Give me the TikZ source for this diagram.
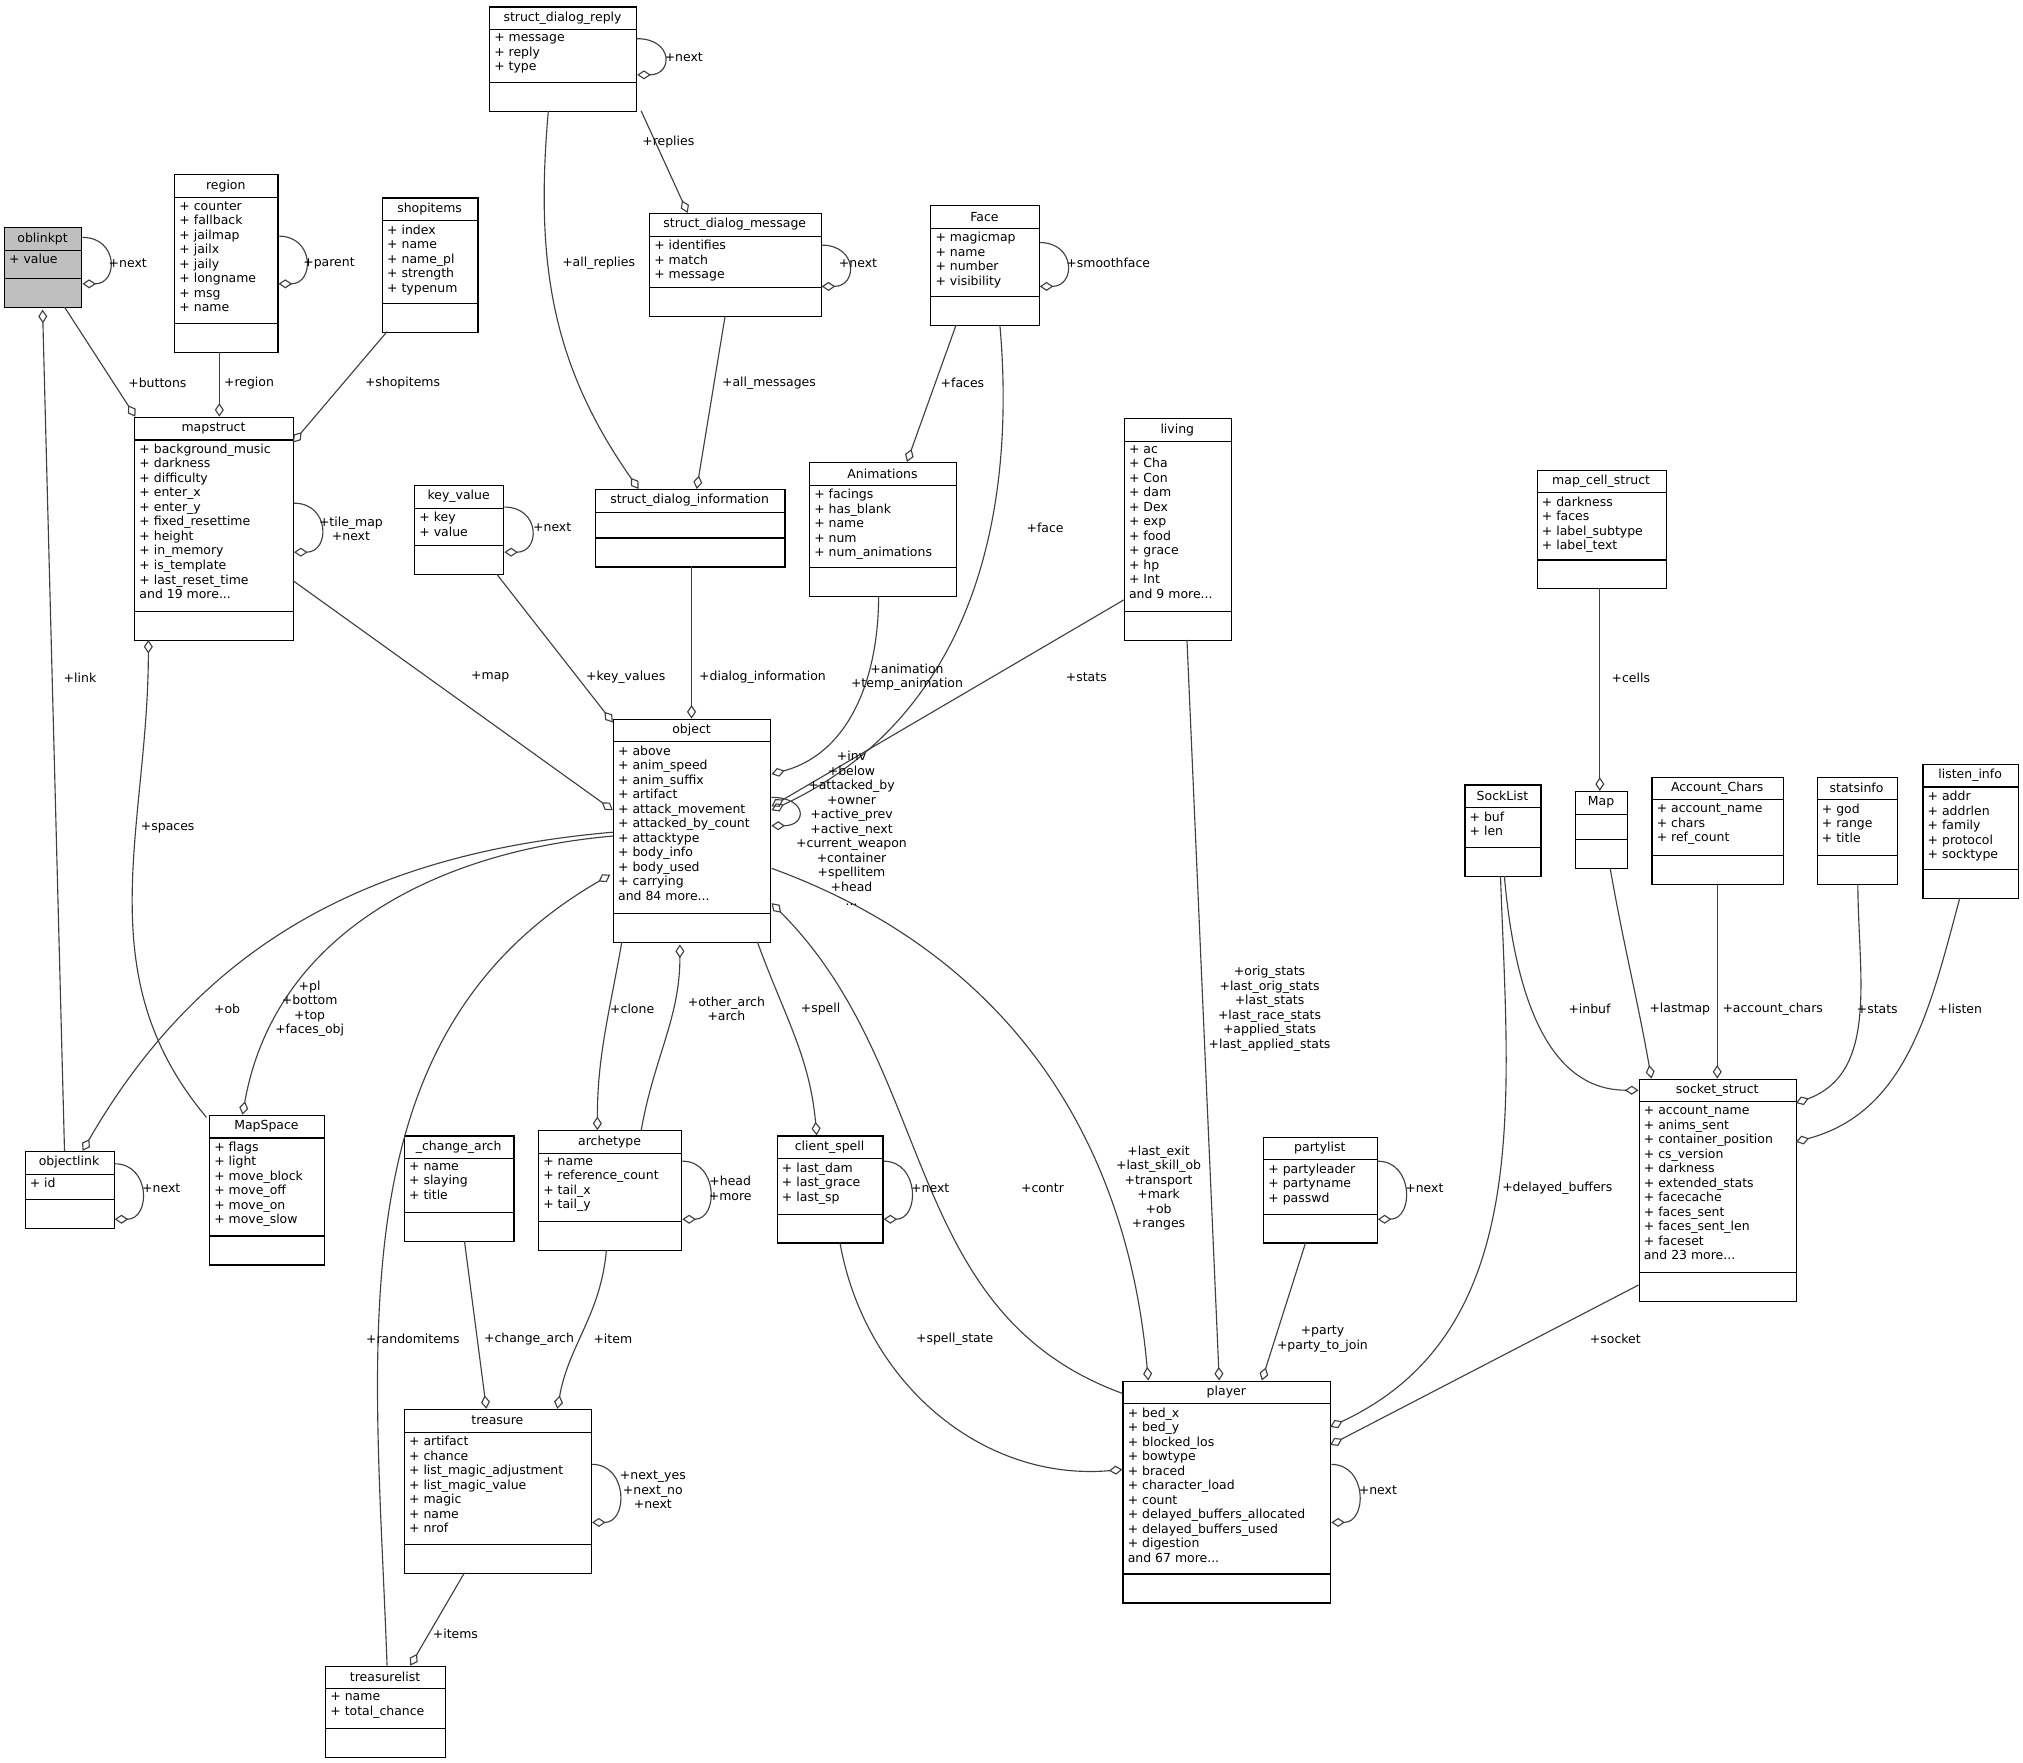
\documentclass[tikz,border=0pt]{standalone}
\usepackage{fontspec}
\newfontfamily\dv{DejaVu Sans}
\usetikzlibrary{arrows.meta, calc}
\tikzset{
x=0.02cm, y=-0.02cm, % pixel units, y down
every node/.style={font=\dv\fontsize{5.5}{6.4}\selectfont, inner sep=1pt},
classbox/.style={draw=black, line width=0.5pt, inner sep=0pt},
classline/.style={draw=black, line width=0.5pt},
attrs/.style={align=left},
agg/.style={draw=black!75, line width=0.5pt, -{Diamond[open,length=6pt,width=4pt]}},
lbl/.style={align=center},
}
% fill, name, x1, y1, x2, y2, title, attributes
\newcommand\umlclass[8][white]{%
  \node[classbox, fill=#1, anchor=north west, minimum width={(#5-#3)*0.02cm},
        minimum height={(#6-#4)*0.02cm}] (#2) at (#3,#4) {};
  \draw[classline] (#3,#4+18) -- (#5,#4+18) (#3,#6-22) -- (#5,#6-22);
  \node (#2-t) at ({(#3+#5)/2},#4+9) {#7};
  \node[attrs, anchor=north west] (#2-a) at (#3+2,#4+19) {#8};
}
% name, top offset, bottom offset
\newcommand\selfloop[3]{%
  \draw[agg] ([shift={(0,#2)}]#1.north east) .. controls +(28,0) and +(28,0) .. ([shift={(0,#3)}]#1.north east);
}
\begin{document}
\begin{tikzpicture}
\useasboundingbox (0,0) rectangle (1568,1366);

\umlclass[black!25]{oblinkpt}{3}{176}{63}{238}{oblinkpt}{+ value}
\umlclass{region}{135}{135}{215}{273}{region}{+ counter\\+ fallback\\+ jailmap\\+ jailx\\+ jaily\\+ longname\\+ msg\\+ name}
\umlclass{shopitems}{296}{153}{370}{257}{shopitems}{+ index\\+ name\\+ name\_pl\\+ strength\\+ typenum}
\umlclass{sdreply}{379}{5}{493}{86}{struct\_dialog\_reply}{+ message\\+ reply\\+ type}
\umlclass{sdmessage}{503}{165}{636}{245}{struct\_dialog\_message}{+ identifies\\+ match\\+ message}
\umlclass{face}{721}{159}{805}{252}{Face}{+ magicmap\\+ name\\+ number\\+ visibility}
\umlclass{mapstruct}{104}{323}{227}{496}{mapstruct}{+ background\_music\\+ darkness\\+ difficulty\\+ enter\_x\\+ enter\_y\\+ fixed\_resettime\\+ height\\+ in\_memory\\+ is\_template\\+ last\_reset\_time\\and 19 more...}
\umlclass{keyvalue}{321}{376}{390}{445}{key\_value}{+ key\\+ value}
\umlclass{sdinfo}{461}{379}{608}{439}{struct\_dialog\_information}{}
\umlclass{animations}{627}{358}{741}{462}{Animations}{+ facings\\+ has\_blank\\+ name\\+ num\\+ num\_animations}
\umlclass{living}{871}{324}{954}{496}{living}{+ ac\\+ Cha\\+ Con\\+ dam\\+ Dex\\+ exp\\+ food\\+ grace\\+ hp\\+ Int\\and 9 more...}
\umlclass{mapcell}{1191}{364}{1291}{456}{map\_cell\_struct}{+ darkness\\+ faces\\+ label\_subtype\\+ label\_text}
\umlclass{object}{475}{557}{597}{730}{object}{+ above\\+ anim\_speed\\+ anim\_suffix\\+ artifact\\+ attack\_movement\\+ attacked\_by\_count\\+ attacktype\\+ body\_info\\+ body\_used\\+ carrying\\and 84 more...}
\umlclass{socklist}{1135}{608}{1194}{679}{SockList}{+ buf\\+ len}
\umlclass{map}{1221}{613}{1261}{673}{Map}{}
\umlclass{accchars}{1280}{602}{1382}{685}{Account\_Chars}{+ account\_name\\+ chars\\+ ref\_count}
\umlclass{statsinfo}{1408}{602}{1470}{685}{statsinfo}{+ god\\+ range\\+ title}
\umlclass{listeninfo}{1490}{592}{1564}{696}{listen\_info}{+ addr\\+ addrlen\\+ family\\+ protocol\\+ socktype}
\umlclass{objectlink}{19}{892}{88}{952}{objectlink}{+ id}
\umlclass{mapspace}{162}{864}{251}{980}{MapSpace}{+ flags\\+ light\\+ move\_block\\+ move\_off\\+ move\_on\\+ move\_slow}
\umlclass{changearch}{313}{880}{398}{962}{\_change\_arch}{+ name\\+ slaying\\+ title}
\umlclass{archetype}{417}{876}{528}{969}{archetype}{+ name\\+ reference\_count\\+ tail\_x\\+ tail\_y}
\umlclass{clientspell}{602}{880}{684}{963}{client\_spell}{+ last\_dam\\+ last\_grace\\+ last\_sp}
\umlclass{partylist}{979}{881}{1067}{963}{partylist}{+ partyleader\\+ partyname\\+ passwd}
\umlclass{socket}{1270}{836}{1392}{1008}{socket\_struct}{+ account\_name\\+ anims\_sent\\+ container\_position\\+ cs\_version\\+ darkness\\+ extended\_stats\\+ facecache\\+ faces\_sent\\+ faces\_sent\_len\\+ faceset\\and 23 more...}
\umlclass{treasure}{313}{1092}{458}{1219}{treasure}{+ artifact\\+ chance\\+ list\_magic\_adjustment\\+ list\_magic\_value\\+ magic\\+ name\\+ nrof}
\umlclass{player}{870}{1070}{1031}{1242}{player}{+ bed\_x\\+ bed\_y\\+ blocked\_los\\+ bowtype\\+ braced\\+ character\_load\\+ count\\+ delayed\_buffers\_allocated\\+ delayed\_buffers\_used\\+ digestion\\and 67 more...}
\umlclass{treasurelist}{252}{1291}{345}{1362}{treasurelist}{+ name\\+ total\_chance}

% self references
\selfloop{oblinkpt}{8}{44}
\selfloop{region}{48}{85}
\selfloop{sdreply}{25}{53}
\selfloop{sdmessage}{25}{57}
\selfloop{face}{29}{63}
\selfloop{mapstruct}{67}{105}
\selfloop{keyvalue}{17}{52}
\selfloop{object}{61}{83}
\selfloop{objectlink}{10}{53}
\selfloop{archetype}{24}{69}
\selfloop{clientspell}{20}{65}
\selfloop{partylist}{19}{64}
\selfloop{treasure}{43}{88}
\selfloop{player}{65}{110}

% aggregations
\draw[agg] ([shift={(47,62)}]oblinkpt.north west) -- ([shift={(1,0)}]mapstruct.north west);
\draw[agg] ([shift={(35,138)}]region.north west) -- ([shift={(66,0)}]mapstruct.north west);
\draw[agg] ([shift={(4,104)}]shopitems.north west) -- ([shift={(123,20)}]mapstruct.north west);
\draw[agg] ([shift={(118,81)}]sdreply.north west) -- ([shift={(30,0)}]sdmessage.north west);
\draw[agg] ([shift={(46,81)}]sdreply.north west) to[out=-95,in=125] ([shift={(34,0)}]sdinfo.north west);
\draw[agg] ([shift={(59,80)}]sdmessage.north west) -- ([shift={(79,0)}]sdinfo.north west);
\draw[agg] ([shift={(20,93)}]face.north west) -- ([shift={(76,0)}]animations.north west);
\draw[agg] ([shift={(54,93)}]face.north west) to[out=-85,in=25] ([shift={(123,71)}]object.north west);
\draw[agg] ([shift={(123,127)}]mapstruct.north west) -- ([shift={(0,71)}]object.north west);
\draw[agg] ([shift={(64,69)}]keyvalue.north west) -- ([shift={(0,3)}]object.north west);
\draw[agg] ([shift={(75,60)}]sdinfo.north west) -- ([shift={(61,0)}]object.north west);
\draw[agg] ([shift={(54,104)}]animations.north west) to[out=-90,in=15] ([shift={(123,43)}]object.north west);
\draw[agg] ([shift={(0,141)}]living.north west) -- ([shift={(123,68)}]object.north west);
\draw[agg] ([shift={(49,92)}]mapcell.north west) -- ([shift={(19,0)}]map.north west);
\draw[agg] ([shift={(-2,2)}]mapspace.north west) to[out=130,in=-90] ([shift={(11,173)}]mapstruct.north west);
\draw[agg] ([shift={(0,91)}]object.north west) to[out=185,in=80] ([shift={(26,0)}]mapspace.north west);
\draw[agg] ([shift={(0,88)}]object.north west) to[out=185,in=60] ([shift={(45,0)}]objectlink.north west);
\draw[agg] ([shift={(31,0)}]objectlink.north west) -- ([shift={(30,64)}]oblinkpt.north west);
\draw[agg] ([shift={(7,173)}]object.north west) to[out=-100,in=90] ([shift={(46,0)}]archetype.north west);
\draw[agg] ([shift={(80,0)}]archetype.north west) to[out=80,in=-90] ([shift={(52,175)}]object.north west);
\draw[agg] ([shift={(112,173)}]object.north west) to[out=-70,in=95] ([shift={(31,0)}]clientspell.north west);
\draw[agg] ([shift={(48,0)}]treasurelist.north west) to[out=92,in=210] ([shift={(-2,121)}]object.north west);
\draw[agg] ([shift={(47,82)}]changearch.north west) -- ([shift={(64,0)}]treasure.north west);
\draw[agg] ([shift={(53,93)}]archetype.north west) to[out=-95,in=80] ([shift={(119,0)}]treasure.north west);
\draw[agg] ([shift={(47,127)}]treasure.north west) -- ([shift={(66,0)}]treasurelist.north west);
\draw[agg] ([shift={(0,10)}]player.north west) to[out=160,in=-45] ([shift={(123,143)}]object.north west);
\draw[agg] ([shift={(123,116)}]object.north west) to[out=-20,in=95] ([shift={(20,0)}]player.north west);
\draw[agg] ([shift={(49,172)}]living.north west) -- ([shift={(75,0)}]player.north west);
\draw[agg] ([shift={(33,82)}]partylist.north west) -- ([shift={(108,0)}]player.north west);
\draw[agg] ([shift={(49,83)}]clientspell.north west) to[out=-80,in=185] ([shift={(0,69)}]player.north west);
\draw[agg] ([shift={(28,71)}]socklist.north west) to[out=-88,in=25] ([shift={(161,36)}]player.north west);
\draw[agg] ([shift={(0,160)}]socket.north west) -- ([shift={(161,50)}]player.north west);
\draw[agg] ([shift={(31,71)}]socklist.north west) to[out=-85,in=180] ([shift={(0,9)}]socket.north west);
\draw[agg] ([shift={(27,60)}]map.north west) to[out=-80,in=100] ([shift={(10,0)}]socket.north west);
\draw[agg] ([shift={(51,83)}]accchars.north west) -- ([shift={(61,0)}]socket.north west);
\draw[agg] ([shift={(32,83)}]statsinfo.north west) to[out=-90,in=20] ([shift={(122,19)}]socket.north west);
\draw[agg] ([shift={(29,104)}]listeninfo.north west) to[out=-105,in=15] ([shift={(122,49)}]socket.north west);

% labels
\node[lbl] (l-next1) at (99,204) {+next};
\node[lbl] (l-parent) at (255,204) {+parent};
\node[lbl] (l-next2) at (530,44) {+next};
\node[lbl] (l-next3) at (665,204) {+next};
\node[lbl] (l-smooth) at (859,204) {+smoothface};
\node[lbl] (l-tilemap) at (272,410) {+tile\_map\\+next};
\node[lbl] (l-next4) at (428,409) {+next};
\node[lbl] (l-inv) at (660,642) {+inv\\+below\\+attacked\_by\\+owner\\+active\_prev\\+active\_next\\+current\_weapon\\+container\\+spellitem\\+head\\...};
\node[lbl] (l-next5) at (125,921) {+next};
\node[lbl] (l-head) at (566,921) {+head\\+more};
\node[lbl] (l-next6) at (721,921) {+next};
\node[lbl] (l-next7) at (1104,921) {+next};
\node[lbl] (l-nextyes) at (506,1155) {+next\_yes\\+next\_no\\+next};
\node[lbl] (l-next8) at (1068,1155) {+next};
\node[lbl] (l-buttons) at (122,297) {+buttons};
\node[lbl] (l-region) at (193,297) {+region};
\node[lbl] (l-shopitems) at (312,297) {+shopitems};
\node[lbl] (l-replies) at (518,110) {+replies};
\node[lbl] (l-allreplies) at (464,204) {+all\_replies};
\node[lbl] (l-allmessages) at (596,297) {+all\_messages};
\node[lbl] (l-faces) at (746,297) {+faces};
\node[lbl] (l-face) at (810,409) {+face};
\node[lbl] (l-map) at (380,525) {+map};
\node[lbl] (l-keyvalues) at (485,525) {+key\_values};
\node[lbl] (l-dialog) at (591,525) {+dialog\_information};
\node[lbl] (l-animation) at (703,525) {+animation\\+temp\_animation};
\node[lbl] (l-stats) at (842,525) {+stats};
\node[lbl] (l-cells) at (1264,525) {+cells};
\node[lbl] (l-spaces) at (130,642) {+spaces};
\node[lbl] (l-link) at (62,525) {+link};
\node[lbl] (l-ob) at (176,782) {+ob};
\node[lbl] (l-pl) at (240,782) {+pl\\+bottom\\+top\\+faces\_obj};
\node[lbl] (l-clone) at (490,782) {+clone};
\node[lbl] (l-otherarch) at (563,782) {+other\_arch\\+arch};
\node[lbl] (l-spell) at (636,782) {+spell};
\node[lbl] (l-origstats) at (984,782) {+orig\_stats\\+last\_orig\_stats\\+last\_stats\\+last\_race\_stats\\+applied\_stats\\+last\_applied\_stats};
\node[lbl] (l-inbuf) at (1232,782) {+inbuf};
\node[lbl] (l-lastmap) at (1302,782) {+lastmap};
\node[lbl] (l-accchars) at (1374,782) {+account\_chars};
\node[lbl] (l-stats2) at (1455,782) {+stats};
\node[lbl] (l-listen) at (1519,782) {+listen};
\node[lbl] (l-contr) at (808,921) {+contr};
\node[lbl] (l-lastexit) at (898,921) {+last\_exit\\+last\_skill\_ob\\+transport\\+mark\\+ob\\+ranges};
\node[lbl] (l-delayed) at (1207,921) {+delayed\_buffers};
\node[lbl] (l-randomitems) at (320,1038) {+randomitems};
\node[lbl] (l-changearch) at (410,1038) {+change\_arch};
\node[lbl] (l-item) at (475,1038) {+item};
\node[lbl] (l-spellstate) at (740,1038) {+spell\_state};
\node[lbl] (l-party) at (1025,1038) {+party\\+party\_to\_join};
\node[lbl] (l-socket) at (1252,1038) {+socket};
\node[lbl] (l-items) at (353,1266) {+items};
\end{tikzpicture}
\end{document}
